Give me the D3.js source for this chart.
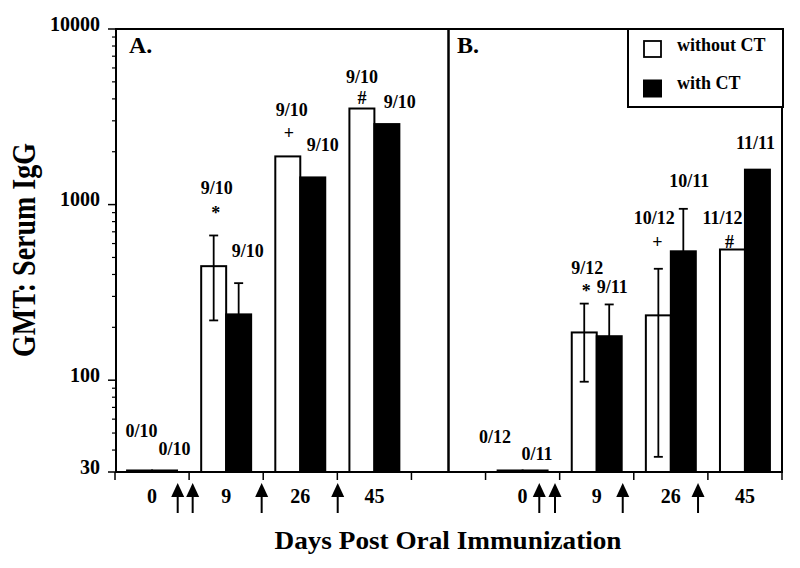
<!DOCTYPE html>
<html><head><meta charset="utf-8">
<script src="https://cdn.jsdelivr.net/npm/d3@7"></script>
<style>html,body{margin:0;padding:0;background:#fff;} svg{display:block;font-family:"Liberation Serif","Times New Roman",serif;font-weight:bold;}</style>
</head><body>
<svg id="c" width="800" height="568"></svg>
<script>
// ---------- data ----------
const slots = ["A-0","A-9","A-26","A-45","gap","B-0","B-9","B-26","B-45"];
const dayLabels = ["0","9","26","45","","0","9","26","45"];
const panelNames = ["A.","B."];
const seriesNames = ["without CT","with CT"];
const withoutCT = [30.6, 446, 1881, 3525, null, 30.6, 187, 234, 555];
const withCT    = [30.6, 237, 1428, 2874, null, 30.6, 178, 542, 1581];
const withoutErrHi = [null, 667, null, null, null, null, 273, 431, null];
const withoutErrLo = [null, 219, null, null, null, null, 98, 36.6, null];
const withErrHi    = [null, 357, null, null, null, null, 270, 946, null];
const withoutResp = ["0/10","9/10","9/10","9/10",null,"0/12","9/12","10/12","11/12"];
const withResp    = ["0/10","9/10","9/10","9/10",null,"0/11","9/11","10/11","11/11"];
const withoutSig  = [null,"*","+","#",null,null,"*","+","#"];
// annotation anchors, in titer units
const withoutLabelAt = [47.4, 1155, 3201, 4932, null, 43.8, 405, 780, 780];
const withLabelAt    = [37.5, 506, 2027, 3557, null, 35.0, 312, 1265, 2079];
const sigAt          = [null, 924, 2541, 4053, null, null, 333, 610, 616];
// oral immunization arrows, in slot units along the x axis
const boosterAt = [0.846, 1.048, 1.979, 3.005, 5.725, 5.937, 6.851, 7.867];
const yMajorTicks = [30, 100, 1000, 10000];
const yTickLabels = ["30","100","1000","10000"];
const yMinorTicks = [40,50,60,70,80,90,200,300,400,500,600,700,800,900,2000,3000,4000,5000,6000,7000,8000,9000];

// ---------- layout nudges (px) ----------
const whiteLabelDx = [2,3,4,0,0,-15,3,-4,-10];
const blackLabelDx = [10,9,10,13,0,2,3,6,-2];
const sigDx = [0,2,1,0,0,0,2,-1,-3];
const glyphShift = {"*":8.5,"+":5.5,"#":6};

const svg = d3.select("#c");
const L = 116, R = 782, T = 29, B = 472;

const y = d3.scaleLog().domain([30, 10000]).range([B, T]);
const x = d3.scaleBand().domain(slots).range([115, 782]).padding(0);
const xs = d3.scaleLinear().domain([0, slots.length]).range([115, 782]);
const bw = x.bandwidth();
const barW = bw * 0.337;
const cx = s => x(s) + bw / 2;

const g = svg.append("g");

// bars
const idx = d3.range(slots.length).filter(i => withoutCT[i] != null);
g.selectAll("rect.w").data(idx).join("rect")
  .attr("x", i => cx(slots[i]) - barW).attr("width", barW)
  .attr("y", i => y(withoutCT[i])).attr("height", i => B - y(withoutCT[i]))
  .attr("fill", "#fff").attr("stroke", "#000").attr("stroke-width", 2);
g.selectAll("rect.b").data(idx).join("rect")
  .attr("x", i => cx(slots[i])).attr("width", barW)
  .attr("y", i => y(withCT[i])).attr("height", i => B - y(withCT[i]))
  .attr("fill", "#000").attr("stroke", "#000").attr("stroke-width", 2);

// error bars
function errBar(xc, hi, lo) {
  const cap = 4.5;
  const yl = lo != null ? y(lo) : null;
  g.append("line").attr("x1", xc).attr("x2", xc).attr("y1", y(hi)).attr("y2", yl != null ? yl : B)
    .attr("stroke", "#000").attr("stroke-width", 1.8);
  g.append("line").attr("x1", xc - cap).attr("x2", xc + cap).attr("y1", y(hi)).attr("y2", y(hi))
    .attr("stroke", "#000").attr("stroke-width", 1.8);
  if (yl != null) g.append("line").attr("x1", xc - cap).attr("x2", xc + cap).attr("y1", yl).attr("y2", yl)
    .attr("stroke", "#000").attr("stroke-width", 1.8);
}
idx.forEach(i => {
  if (withoutErrHi[i] != null) errBar(cx(slots[i]) - barW / 2, withoutErrHi[i], withoutErrLo[i]);
  if (withErrHi[i] != null) errBar(cx(slots[i]) + barW / 2, withErrHi[i], null);
});

// frames
g.append("rect").attr("x", L).attr("y", T).attr("width", xs(4.5) - L).attr("height", B - T)
  .attr("fill", "none").attr("stroke", "#000").attr("stroke-width", 2);
g.append("rect").attr("x", xs(4.5)).attr("y", T).attr("width", R - xs(4.5)).attr("height", B - T)
  .attr("fill", "none").attr("stroke", "#000").attr("stroke-width", 2);

// y axis ticks
g.selectAll("line.ymaj").data(yMajorTicks).join("line")
  .attr("x1", L - 8).attr("x2", L).attr("y1", d => y(d)).attr("y2", d => y(d))
  .attr("stroke", "#000").attr("stroke-width", 1.5);
g.selectAll("line.ymin").data(yMinorTicks).join("line")
  .attr("x1", L - 4).attr("x2", L).attr("y1", d => y(d)).attr("y2", d => y(d))
  .attr("stroke", "#000").attr("stroke-width", 1.2);
g.selectAll("text.ytl").data(yMajorTicks).join("text")
  .attr("x", 100).attr("y", d => y(d) + 1.5).attr("text-anchor", "end")
  .attr("font-size", 20).text((d, i) => yTickLabels[i]);

// x axis ticks
g.selectAll("line.xt").data(d3.range(slots.length + 1)).join("line")
  .attr("x1", d => xs(d)).attr("x2", d => xs(d)).attr("y1", B).attr("y2", B + 8)
  .attr("stroke", "#000").attr("stroke-width", 1.5);
g.selectAll("text.xl").data(slots).join("text")
  .attr("x", s => cx(s)).attr("y", 503).attr("text-anchor", "middle")
  .attr("font-size", 20).text((s, i) => dayLabels[i]);

// booster arrows
boosterAt.forEach(a => {
  const ax = xs(a);
  g.append("path").attr("d", `M${ax},483 L${ax - 6.5},497 L${ax + 6.5},497 Z`).attr("fill", "#000");
  g.append("line").attr("x1", ax).attr("x2", ax).attr("y1", 496).attr("y2", 513)
    .attr("stroke", "#000").attr("stroke-width", 2);
});

// response labels
idx.forEach(i => {
  const xc = cx(slots[i]);
  g.append("text").attr("x", xc - barW / 2 + whiteLabelDx[i]).attr("y", y(withoutLabelAt[i]))
    .attr("text-anchor", "middle").attr("font-size", 18).text(withoutResp[i]);
  g.append("text").attr("x", xc + barW / 2 + blackLabelDx[i]).attr("y", y(withLabelAt[i]))
    .attr("text-anchor", "middle").attr("font-size", 18).text(withResp[i]);
  if (withoutSig[i]) {
    g.append("text").attr("x", xc - barW / 2 + sigDx[i]).attr("y", y(sigAt[i]) + glyphShift[withoutSig[i]])
      .attr("text-anchor", "middle").attr("font-size", 18).text(withoutSig[i]);
  }
});

// panel letters
g.append("text").attr("x", 129).attr("y", 53).attr("font-size", 24).text(panelNames[0]);
g.append("text").attr("x", 457).attr("y", 53).attr("font-size", 24).text(panelNames[1]);

// legend
g.append("rect").attr("x", 628).attr("y", 29).attr("width", 155).attr("height", 78)
  .attr("fill", "#fff").attr("stroke", "#000").attr("stroke-width", 2);
g.append("rect").attr("x", 644).attr("y", 41).attr("width", 17).attr("height", 16)
  .attr("fill", "#fff").attr("stroke", "#000").attr("stroke-width", 1.8);
g.append("rect").attr("x", 643).attr("y", 79.5).attr("width", 19).attr("height", 18).attr("fill", "#000");
g.append("text").attr("x", 677).attr("y", 50.5).attr("font-size", 18).text(seriesNames[0]);
g.append("text").attr("x", 677).attr("y", 88.5).attr("font-size", 18).text(seriesNames[1]);

// axis titles
g.append("text").attr("x", 448).attr("y", 549).attr("text-anchor", "middle")
  .attr("font-size", 25).attr("textLength", 347).attr("lengthAdjust", "spacingAndGlyphs")
  .text("Days Post Oral Immunization");
g.append("text").attr("transform", "translate(35,250) rotate(-90)").attr("text-anchor", "middle")
  .attr("font-size", 34).attr("textLength", 214).attr("lengthAdjust", "spacingAndGlyphs")
  .text("GMT: Serum IgG");
</script>
</body></html>
